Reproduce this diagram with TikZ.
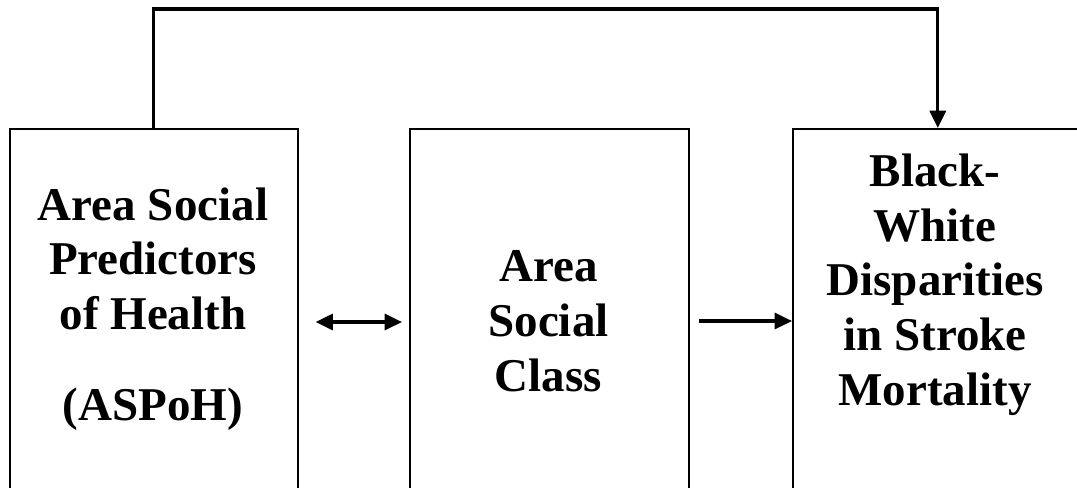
\documentclass[tikz,border=0pt]{standalone}
\usepackage{fontspec}
\setmainfont{Liberation Serif}
\usetikzlibrary{arrows.meta,calc}
\begin{document}
\begin{tikzpicture}[x=0.75pt,y=-0.75pt,
  boxshape/.style={draw,line width=1.2pt,rectangle,anchor=north west,inner sep=0pt,minimum height=285pt},
  label/.style={align=center,anchor=base,inner sep=0pt,font=\bfseries\fontsize{35.25}{41}\selectfont},
  conn/.style={line width=2.4pt,-{Triangle[length=13pt,width=12pt]}},
  conn2/.style={line width=2.4pt,{Triangle[length=13pt,width=12pt]}-{Triangle[length=13pt,width=12pt]}}]
\useasboundingbox (0,0) rectangle (1077,487);
\clip (0,0) rectangle (1077,487);
\fill[white] (0,0) rectangle (1077,487);
% boxes
\node[boxshape,minimum width=216pt] (aspoh) at (9,128) {};
\node[boxshape,minimum width=209.25pt] (class) at (409,128) {};
\node[boxshape,minimum width=217.5pt] (disp) at (792,128) {};
% texts
\node[label] (t1) at (153,420) {Area Social\\Predictors\\of Health\\[27pt](ASPoH)};
\node[label] (t2) at (548.5,391) {Area\\Social\\Class};
\node[label] (t3) at (935,405) {Black-\\White\\Disparities\\in Stroke\\Mortality};
% connectors
\draw[conn2] ([shift={(17,194)}]aspoh.north east) -- ([shift={(-7,194)}]class.north west);
\draw[conn] ([shift={(9,193)}]class.north east) -- ([shift={(0,193)}]disp.north west);
\draw[conn] (aspoh.north) -- ++(0,-119) -| (disp.north);
\end{tikzpicture}
\end{document}
